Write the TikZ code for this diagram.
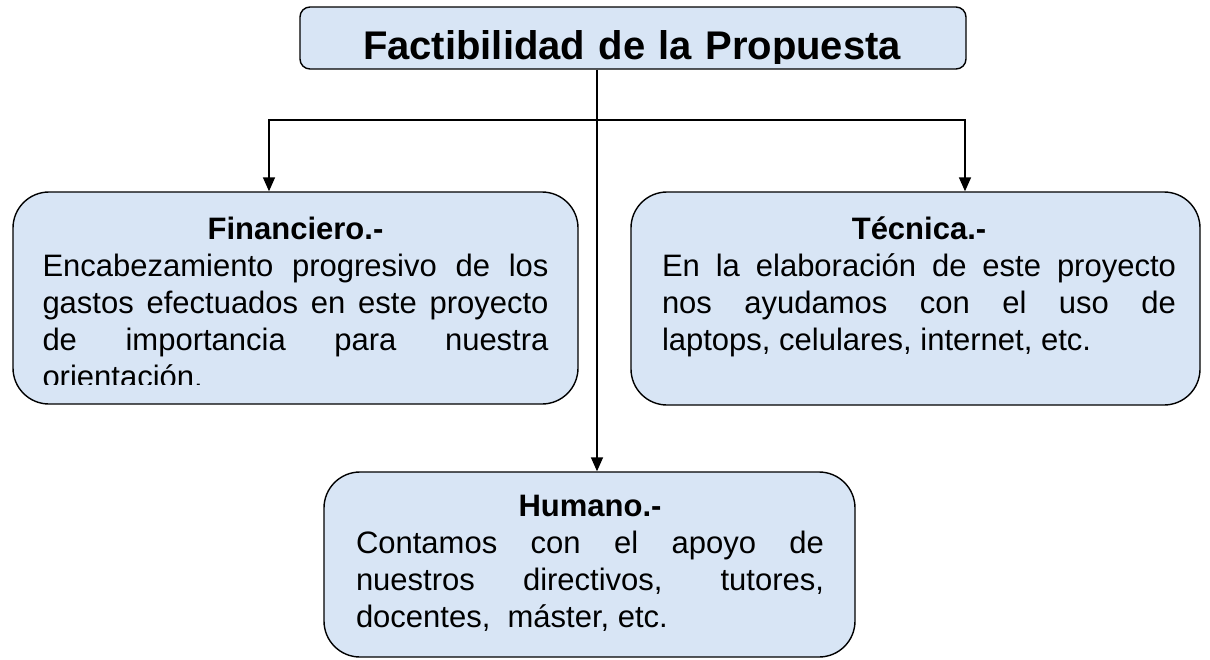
\documentclass[tikz,border=0pt]{standalone}
\usepackage{fontspec}
\setmainfont{Liberation Sans}
\usetikzlibrary{arrows.meta}
\definecolor{boxblue}{RGB}{216,229,245}
\tolerance=10000
\hyphenpenalty=10000

\begin{document}
\begin{tikzpicture}[x=1pt, y=-1pt,
        box/.style={draw=black, line width=1.4pt, fill=boxblue, rounded corners=36pt, inner sep=0pt},
        boxtext/.style={text width=#1, align=justify, inner sep=0pt, anchor=base, font=\fontsize{31}{37}\selectfont},
        link/.style={line width=1.6pt},
        tip/.tip={Triangle[length=14pt, width=12pt]}]

    \useasboundingbox (0,0) rectangle (1210,659);

    % the four boxes
    \node[box, rounded corners=10pt, minimum width=666pt, minimum height=62pt] (tit) at (633,38) {};
    \node[box, minimum width=565pt, minimum height=212pt] (fin) at (295.5,298) {};
    \node[box, minimum width=569pt, minimum height=213pt] (tec) at (915.5,298.5) {};
    \node[box, minimum width=531pt, minimum height=185pt] (hum) at (589.5,564.5) {};

    % texts, cut off by the inner margin of the box
    \begin{scope}
        \clip (300,7) rectangle (966,63);
        \node[boxtext=640pt, align=center, font=\fontsize{40}{44}\selectfont\bfseries] (tit-txt) at (632,59) {Factibilidad de la Propuesta};
    \end{scope}

    \begin{scope}
        \clip (13,192) rectangle (578,384);
        \node[boxtext=506pt] (fin-txt) at (295.5,239) {{\centering\bfseries Financiero.-\par}
            Encabezamiento progresivo de los\linebreak gastos efectuados en este proyecto\linebreak de importancia para nuestra\linebreak orientación.};
    \end{scope}

    \node[boxtext=514pt] (tec-txt) at (919,239) {{\centering\bfseries Técnica.-\par}
        En la elaboración de este proyecto\linebreak nos ayudamos con el uso de\linebreak laptops, celulares, internet, etc.};

    \node[boxtext=468pt] (hum-txt) at (590,516) {{\centering\bfseries Humano.-\par}
        Contamos con el apoyo de\linebreak nuestros directivos, tutores,\linebreak docentes,\ \ máster, etc.};

    % connectors
    \coordinate (split) at (597,120);
    \coordinate (jleft) at (269,120);
    \coordinate (jright) at (965,120);

    \draw[link, tip-tip] (jleft |- fin.north) -- (jleft) -- (jright) -- (jright |- tec.north);
    \draw[link, -tip] (tit.south -| split) -- (hum.north -| split);

\end{tikzpicture}
\end{document}
